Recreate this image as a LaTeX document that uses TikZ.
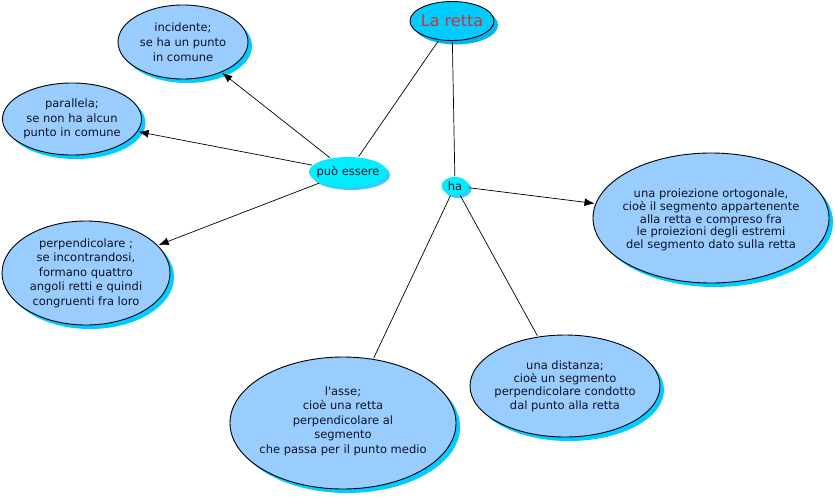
\documentclass[tikz,border=0pt]{standalone}
\usepackage{fontspec}
\setmainfont{DejaVu Sans}[Ligatures=TeXOff]
\usetikzlibrary{shapes.geometric,shadows,arrows.meta}
\definecolor{bubble}{HTML}{99CCFF}
\definecolor{shade}{HTML}{00CCFF}
\definecolor{headfill}{HTML}{00CCFF}
\definecolor{headshade}{HTML}{00B5F0}
\definecolor{linkfill}{HTML}{00EEFF}
\definecolor{linkshade}{HTML}{33CCFF}
\definecolor{titlered}{HTML}{CC3333}
\definecolor{ink}{HTML}{111122}
\begin{document}
\begin{tikzpicture}[x=1pt,y=-1pt,
  bubblebox/.style={ellipse,draw=black,line width=0.9pt,fill=bubble,inner sep=0pt,
    general shadow={shadow xshift=4pt,shadow yshift=-4pt,fill=shade}},
  headbox/.style={ellipse,draw=black,line width=0.9pt,fill=headfill,inner sep=0pt,
    general shadow={shadow xshift=4pt,shadow yshift=-4pt,fill=headshade}},
  linkbox/.style={ellipse,fill=linkfill,inner sep=0pt,
    general shadow={shadow xshift=3pt,shadow yshift=-3pt,fill=linkshade}},
  btext/.style={align=center,text=ink,inner sep=0pt,font=\fontsize{11.5}{14.5}\selectfont},
  htext/.style={text=titlered,inner sep=0pt,font=\fontsize{16}{18}\selectfont},
  ltext/.style={text=ink,inner sep=0pt,font=\fontsize{11.5}{13}\selectfont},
  conn/.style={draw=black,line width=0.7pt,shorten <=1pt,shorten >=1pt},
  arr/.style={conn,-{Latex[length=10pt,width=8pt]}}
]
\useasboundingbox (0,0) rectangle (835,496);

\node[headbox,minimum width=84pt,minimum height=39pt] (retta) at (452,21) {};
\node[htext] (retta-t) at (retta) {La retta};

\node[bubblebox,minimum width=130pt,minimum height=74pt] (inc) at (183,42) {};
\node[btext,font=\fontsize{11.5}{15}\selectfont] (inc-t) at (inc)
  {incidente;\\se ha un punto\\in comune};
\node[bubblebox,minimum width=139pt,minimum height=72pt] (par) at (72,119) {};
\node[btext] (par-t) at (par)
  {parallela;\\se non ha alcun\\punto in comune};
\node[bubblebox,minimum width=168pt,minimum height=104pt] (perp) at (86,273) {};
\node[btext] (perp-t) at (perp)
  {perpendicolare ;\\se incontrandosi,\\formano quattro\\angoli retti e quindi\\congruenti fra loro};
\node[bubblebox,minimum width=236pt,minimum height=130pt] (proi) at (711,218) {};
\node[btext,font=\fontsize{11.5}{12.8}\selectfont] (proi-t) at ([yshift=-2pt]proi.center)
  {una proiezione ortogonale,\\cioè il segmento appartenente\\alla retta e compreso fra\\le proiezioni degli estremi\\del segmento dato sulla retta};
\node[bubblebox,minimum width=190pt,minimum height=102pt] (dist) at (565,386) {};
\node[btext,font=\fontsize{11.5}{13.4}\selectfont] (dist-t) at (dist)
  {una distanza;\\cioè un segmento\\perpendicolare condotto\\dal punto alla retta};
\node[bubblebox,minimum width=226pt,minimum height=132pt] (asse) at (343,423) {};
\node[btext] (asse-t) at ([yshift=2pt]asse.center)
  {l'asse;\\cioè una retta\\perpendicolare al\\segmento\\che passa per il punto medio};

\node[linkbox,minimum width=78pt,minimum height=30pt] (puo) at (348,172) {};
\node[ltext] (puo-t) at (puo) {può essere};
\node[linkbox,minimum width=27pt,minimum height=18pt] (ha) at (455,186) {};
\node[ltext] (ha-t) at (ha) {ha};

\draw[conn] (retta) -- (puo);
\draw[conn] (retta) -- (ha);
\draw[arr] (puo) -- (inc);
\draw[arr] (puo) -- (par);
\draw[arr] (puo) -- (perp);
\draw[arr] (ha) -- (proi);
\draw[conn] (ha) -- (asse);
\draw[conn] (ha) -- (dist);
\end{tikzpicture}
\end{document}
